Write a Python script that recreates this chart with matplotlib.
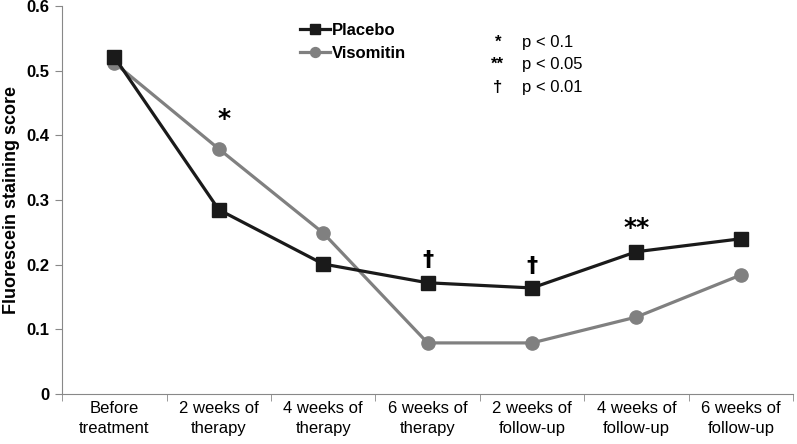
import matplotlib
matplotlib.use("Agg")
import matplotlib.pyplot as plt
from matplotlib import font_manager as fm

categories = ["Before\ntreatment", "2 weeks of\ntherapy", "4 weeks of\ntherapy",
              "6 weeks of\ntherapy", "2 weeks of\nfollow-up", "4 weeks of\nfollow-up",
              "6 weeks of\nfollow-up"]
placebo = [0.521, 0.285, 0.201, 0.172, 0.164, 0.220, 0.240]
visomitin = [0.512, 0.379, 0.249, 0.079, 0.079, 0.119, 0.184]
sig_marks = ["*", "†", "†", "**"]
sig_index = [1, 3, 4, 5]
sig_y = [0.425, 0.207, 0.198, 0.257]
key_symbols = ["*", "**", "†"]
key_texts = ["p < 0.1", "p < 0.05", "p < 0.01"]
yticks = [0, 0.1, 0.2, 0.3, 0.4, 0.5, 0.6]

names = {f.name for f in fm.fontManager.ttflist}
narrow = "Liberation Sans Narrow" if "Liberation Sans Narrow" in names else "Liberation Sans"
plt.rcParams['font.family'] = ['Liberation Sans', 'DejaVu Sans']

fig = plt.figure(figsize=(7.97, 4.44), dpi=100)
ax = fig.add_axes([0.078, 0.1126, 0.917, 0.874])

x = list(range(len(categories)))
ax.plot(x, placebo, color="#1a1a1a", lw=2.3, marker="s", ms=10, label="Placebo", zorder=3)
ax.plot(x, visomitin, color="#808080", lw=2.3, marker="o", ms=9.5, label="Visomitin", zorder=2)

ax.set_xlim(-0.5, len(categories) - 0.5)
ax.set_ylim(0, 0.6)
ax.set_yticks(yticks)
ax.set_yticklabels([f"{t:g}" for t in yticks], fontsize=12, fontweight="bold")
ax.set_xticks(x)
ax.set_xticklabels(categories, fontsize=12, family=[narrow, 'DejaVu Sans'], linespacing=1.45)
ax.set_xticks([i - 0.5 for i in range(len(categories) + 1)], minor=True)
ax.tick_params(axis="x", which="major", length=0, pad=5)
ax.tick_params(axis="x", which="minor", length=5, color="#888888")
ax.tick_params(axis="y", length=5, color="#888888", pad=4)
for s in ["top", "right"]:
    ax.spines[s].set_visible(False)
for s in ["left", "bottom"]:
    ax.spines[s].set_color("#888888")
ax.set_ylabel("Fluorescein staining score", fontsize=13, fontweight="bold", labelpad=5)

for m, i, yv in zip(sig_marks, sig_index, sig_y):
    fs = 18 if "*" in m else 16
    ax.text(i + 0.05 if m == "*" else i, yv, m, ha="center", va="center", fontsize=fs,
            fontweight="bold", family=["DejaVu Sans"])

leg = ax.legend(loc="upper left", bbox_to_anchor=(0.305, 0.994), frameon=False,
                prop={"weight": "bold", "size": 12}, handlelength=1.8,
                handletextpad=0.1, labelspacing=0.45, markerscale=0.75)

for k, (sym, txt) in enumerate(zip(key_symbols, key_texts)):
    yy = 0.907 - k * 0.058
    ax.text(0.596, yy, sym, transform=ax.transAxes, ha="center", va="center",
            fontsize=12, fontweight="bold")
    ax.text(0.629, yy, txt, transform=ax.transAxes, ha="left", va="center", fontsize=12)

fig.savefig("out.png", dpi=100)
